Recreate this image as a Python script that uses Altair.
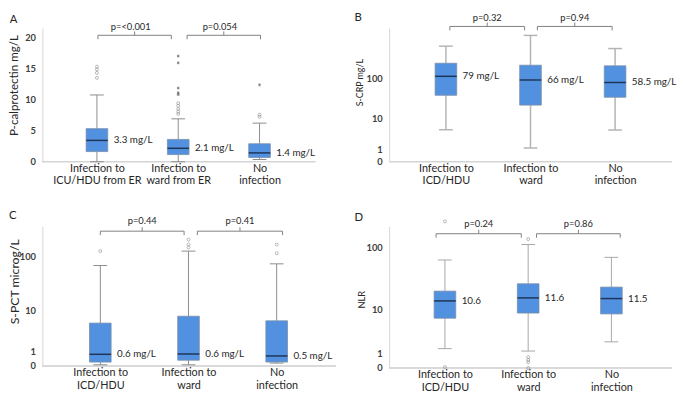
import json
import altair as alt
import pandas as pd

# ---------------- data ----------------
GROUPS_A = ["Infection to\nICU/HDU from ER", "Infection to\nward from ER", "No\ninfection"]
GROUPS_BCD = ["Infection to\nICD/HDU", "Infection to\nward", "No\ninfection"]

# Panel A: P-calprotectin mg/L
A_low = [0.0, 0.0, 0.36]
A_q1 = [1.63, 1.15, 0.68]
A_med = [3.43, 2.16, 1.42]
A_q3 = [5.32, 3.59, 2.89]
A_high = [10.74, 6.90, 6.21]
A_med_text = ["3.3 mg/L", "2.1 mg/L", "1.4 mg/L"]
A_out_group = [0, 0, 0, 0, 1, 1, 1, 1, 1, 1, 1, 1, 1, 1, 2, 2, 2]
A_out_value = [15.3, 14.85, 14.3, 13.5, 17.0, 15.9, 11.85, 11.1, 10.8,
               9.43, 9.0, 8.48, 8.06, 7.69, 12.37, 7.58, 7.22]
A_out_kind = ["o", "o", "o", "o", "*", "*", "*", "*", "*",
              "o", "o", "o", "o", "o", "*", "o", "o"]
A_p = ["p=<0.001", "p=0.054"]

# Panel B: S-CRP mg/L
B_low = [4.9, 1.14, 4.8]
B_q1 = [38.8, 22.1, 34.7]
B_med = [113, 92, 79.9]
B_q3 = [234, 210, 203]
B_high = [606, 1101, 531]
B_med_text = ["79 mg/L", "66 mg/L", "58.5 mg/L"]
B_out_group = []
B_out_value = []
B_out_kind = []
B_p = ["p=0.32", "p=0.94"]

# Panel C: S-PCT microg/L
C_low = [0.064, 0.064, 0.152]
C_q1 = [0.21, 0.323, 0.21]
C_med = [0.73, 0.757, 0.607]
C_q3 = [5.62, 7.81, 6.27]
C_high = [68.9, 124.5, 73.8]
C_med_text = ["0.6 mg/L", "0.6 mg/L", "0.5 mg/L"]
C_out_group = [0, 1, 1, 1, 2, 2]
C_out_value = [124.5, 199, 163, 144.5, 163, 113.6]
C_out_kind = ["o", "o", "o", "o", "o", "o"]
C_p = ["p=0.44", "p=0.41"]

# Panel D: NLR
D_low = [1.45, 1.21, 2.24]
D_q1 = [7.02, 8.7, 8.4]
D_med = [14.07, 15.8, 15.4]
D_q3 = [20.4, 26.8, 23.7]
D_high = [63.4, 109.8, 69.7]
D_med_text = ["10.6", "11.6", "11.5"]
D_out_group = [0, 0, 1, 1, 1, 1, 1]
D_out_value = [248, 0.052, 133, 0.69, 0.49, 0.34, 0.0]
D_out_kind = ["o", "o", "o", "o", "o", "o", "o"]
D_p = ["p=0.24", "p=0.86"]

# ---------------- styling ----------------
FONT = "Lato"
AXIS_C = "#d4d4d4"
BLUE = "#5291e0"
BOX_STROKE = "#7b8ea8"
MED_C = "#1f3557"
TXT = "#262626"
OUT_C = "#7f7f7f"
BR_C = "#808080"
STAR = "M-1,0L1,0M0,-1L0,1M-0.7,-0.7L0.7,0.7M-0.7,0.7L0.7,-0.7"


def panel(letter, groups, low, q1, med, q3, high, med_text, og, ov, ok, p_text,
          ytitle, yscale, yvalues, st):
    box = pd.DataFrame({"pos": [0, 1, 2], "low": low, "q1": q1, "med": med,
                        "q3": q3, "high": high, "lab": med_text})
    out = pd.DataFrame({"pos": og, "value": ov, "kind": ok})
    br = pd.DataFrame({"idx": [0, 1], "pos": [0, 1], "end": [1, 2], "p": p_text})
    br["mid"] = (br["pos"] + br["end"]) / 2

    lines = [g.split("\n") for g in groups]
    xaxis = alt.Axis(values=[0, 1, 2], labelExpr=json.dumps(lines) + "[round(datum.value)]",
                     title=None, ticks=False, grid=False, domain=False,
                     labelFont=FONT, labelFontSize=11, labelLineHeight=12.5,
                     labelPadding=1, labelColor=TXT, labelFlush=False,
                     labelOverlap=False, labelBound=False)
    xscale = alt.Scale(domain=st["xdom"], nice=False, zero=False)
    yaxis = alt.Axis(values=yvalues, title=ytitle, ticks=False, grid=False,
                     domainColor=AXIS_C, labelFont=FONT, labelFontSize=9.5,
                     labelFontWeight="bold", labelColor="#404040", labelPadding=7,
                     labelFlush=False, labelOverlap=False, format="d",
                     titleFont=FONT, titleFontSize=st["tsize"], titleFontWeight="normal",
                     titleColor=TXT, titleAngle=270, titleX=st["tx"], titleY=st["ty"],
                     titleAlign="center", titleBaseline="middle")

    def X(f):
        return alt.X(f + ":Q", scale=xscale, axis=xaxis)

    def Y(f):
        return alt.Y(f + ":Q", scale=yscale, axis=yaxis)

    base = alt.Chart(box)
    wc, ww = st["wc"], st["ww"]
    layers = [
        # x axis line (drawn as a rule so that its length can differ from the panel width)
        base.mark_rule(color=AXIS_C, strokeWidth=1).encode(
            x=alt.value(0), x2=alt.value(st["axis_len"]), y=alt.value(st["h"])),
        base.mark_rule(color=wc, strokeWidth=ww).encode(x=X("pos"), y=Y("low"), y2="q1"),
        base.mark_rule(color=wc, strokeWidth=ww).encode(x=X("pos"), y=Y("q3"), y2="high"),
        base.mark_rule(color=wc, strokeWidth=ww, xOffset=-7, x2Offset=7).encode(
            x=X("pos"), x2="pos", y=Y("low")),
        base.mark_rule(color=wc, strokeWidth=ww, xOffset=-7, x2Offset=7).encode(
            x=X("pos"), x2="pos", y=Y("high")),
        base.mark_rect(xOffset=-11, x2Offset=11, fill=BLUE, stroke=BOX_STROKE,
                       strokeWidth=0.8).encode(x=X("pos"), x2="pos", y=Y("q1"), y2="q3"),
        base.mark_rule(xOffset=-11, x2Offset=11, color=MED_C, strokeWidth=1.5).encode(
            x=X("pos"), x2="pos", y=Y("med")),
        base.mark_text(align="left", baseline="middle", dx=17, font=FONT, fontSize=10,
                       color=TXT).encode(x=X("pos"), y=Y("med"), text="lab:N"),
    ]
    if st.get("anchor"):
        # invisible point that fixes the top edge of the whole figure
        layers.append(base.mark_rule(strokeOpacity=0).encode(
            x=alt.value(-30), y=alt.value(-17), y2=alt.value(-16)))
    if len(out):
        if (out["kind"] == "o").any():
            layers.append(alt.Chart(out).transform_filter("datum.kind == 'o'").mark_point(
                shape="circle", size=9, filled=False, color=OUT_C, strokeWidth=0.8).encode(
                x=X("pos"), y=Y("value")))
        if (out["kind"] == "*").any():
            layers.append(alt.Chart(out).transform_filter("datum.kind == '*'").mark_point(
                shape=STAR, size=7, filled=False, color="#444444", strokeWidth=0.9).encode(
                x=X("pos"), y=Y("value")))

    yb = st["by"]
    for i, (ol, orr) in enumerate(st["boff"]):
        b = alt.Chart(br).transform_filter(f"datum.idx == {i}")
        mo = (ol + orr) / 2
        layers += [
            b.mark_rule(color=BR_C, xOffset=ol, x2Offset=orr).encode(
                x=X("pos"), x2="end", y=alt.value(yb)),
            b.mark_rule(color=BR_C, xOffset=ol).encode(
                x=X("pos"), y=alt.value(yb), y2=alt.value(yb + 4)),
            b.mark_rule(color=BR_C, xOffset=orr).encode(
                x=X("end"), y=alt.value(yb), y2=alt.value(yb + 4)),
            b.mark_rule(color=BR_C, xOffset=mo).encode(
                x=X("mid"), y=alt.value(yb - 4), y2=alt.value(yb)),
            b.mark_text(xOffset=mo + st["pdx"], font=FONT, fontSize=9.5, color=TXT,
                        baseline="middle").encode(x=X("mid"), y=alt.value(st["py"]), text="p:N"),
        ]
    layers.append(alt.Chart(pd.DataFrame({"t": [letter]})).mark_text(
        font=FONT, fontSize=11.5, color=TXT, baseline="middle").encode(
        x=alt.value(st["lx"]), y=alt.value(st["ly"]), text="t:N"))
    return alt.layer(*layers).properties(width=st["w"], height=st["h"])


# left column panels share width 299, right column 288
pA = panel("A", GROUPS_A, A_low, A_q1, A_med, A_q3, A_high, A_med_text,
           A_out_group, A_out_value, A_out_kind, A_p, "P-calprotectin  mg/L",
           alt.Scale(type="linear", domain=[0, 21.5], nice=False),
           [0, 5, 10, 15, 20],
           dict(w=299, h=136, axis_len=278, xdom=[-0.671, 2.942], tx=-29, ty=58, tsize=11.8,
                lx=-29.3, ly=-8.5, by=7.3, py=-1.3, pdx=-4, anchor=True,
                boff=[(1, -7), (9, 1)], wc="#8c8c8c", ww=1))
pB = panel("B", GROUPS_BCD, B_low, B_q1, B_med, B_q3, B_high, B_med_text,
           B_out_group, B_out_value, B_out_kind, B_p, "S-CRP mg/L",
           alt.Scale(type="symlog", constant=1, domain=[0, 1650], nice=False),
           [0, 1, 10, 100],
           dict(w=288, h=136, axis_len=288, xdom=[-0.671, 2.674], tx=-30, ty=55, tsize=9,
                lx=-31.5, ly=-10, by=-1.7, py=-10.5, pdx=0,
                boff=[(4, -6), (7, -3)], wc="#b4b4b4", ww=1.5))
pC = panel("C", GROUPS_BCD, C_low, C_q1, C_med, C_q3, C_high, C_med_text,
           C_out_group, C_out_value, C_out_kind, C_p, "S-PCT microg/L",
           alt.Scale(type="symlog", constant=1.2, domain=[0, 338], nice=False),
           [0, 1, 10, 100],
           dict(w=299, h=142, axis_len=299, xdom=[-0.657, 2.674], tx=-28.3, ty=55.7, tsize=12.5,
                lx=-30.2, ly=-11, by=4.7, py=-5.3, pdx=0,
                boff=[(0, -4.5), (9, 6)], wc="#8c8c8c", ww=1))
pD = panel("D", GROUPS_BCD, D_low, D_q1, D_med, D_q3, D_high, D_med_text,
           D_out_group, D_out_value, D_out_kind, D_p, "NLR",
           alt.Scale(type="symlog", constant=1.5, domain=[0, 206.7], nice=False),
           [0, 1, 10, 100],
           dict(w=288, h=144, axis_len=288, xdom=[-0.67, 2.729], tx=-28.3, ty=74, tsize=9.5,
                lx=-31, ly=-9, by=7.3, py=-2.7, pdx=0,
                boff=[(-9, -7), (8.5, 9)], wc="#a6a6a6", ww=1))

chart = alt.concat(pA, pB, pC, pD, columns=2, bounds="flush",
                   spacing={"row": 66, "column": 54}).properties(
    padding=0, background="white").configure_view(stroke=None)

chart.save("out.html", embed_options={"renderer": "svg", "actions": False})
